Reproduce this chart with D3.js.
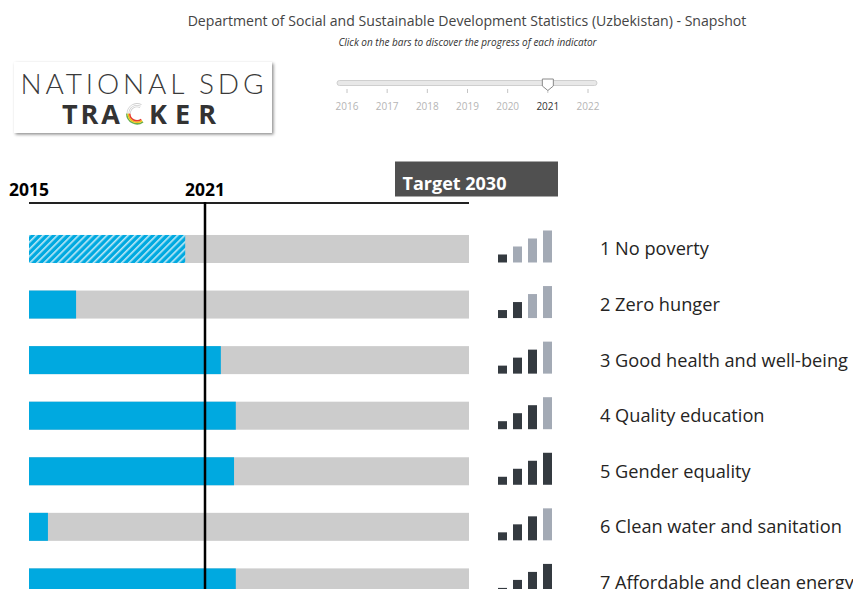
<!DOCTYPE html>
<html><head><meta charset="utf-8">
<script src="https://cdn.jsdelivr.net/npm/d3@7/dist/d3.min.js"></script>
<style>
html,body{margin:0;padding:0;background:#fff;overflow:hidden}
svg{display:block;font-family:"Open Sans","Noto Sans",sans-serif}
</style></head><body>
<svg id="chart" width="853" height="589"></svg>
<script>
// ---- data ----
const goals = ["1 No poverty","2 Zero hunger","3 Good health and well-being","4 Quality education","5 Gender equality","6 Clean water and sanitation","7 Affordable and clean energy"];
const progress = [35.5, 10.7, 43.6, 47.0, 46.6, 4.3, 47.0];   // % of the way to the 2030 target
const estimated = [true, false, false, false, false, false, false];
const signal = [1, 2, 3, 3, 4, 3, 4];                          // 1..4 progress level
const sliderYears = [2016, 2017, 2018, 2019, 2020, 2021, 2022];
const selectedYear = 2021;
const baseYear = 2015, targetYear = 2030;
const titleText = "Department of Social and Sustainable Development Statistics (Uzbekistan) - Snapshot";
const subtitleText = "Click on the bars to discover the progress of each indicator";

const svg = d3.select("#chart");
const defs = svg.append("defs");

// hatch pattern
const pat = defs.append("pattern").attr("id","hatch").attr("patternUnits","userSpaceOnUse")
  .attr("width",5).attr("height",5).attr("patternTransform","rotate(45)");
pat.append("rect").attr("width",5).attr("height",5).attr("fill","#00a9e0");
pat.append("rect").attr("x",0).attr("width",1.6).attr("height",5).attr("fill","#bfe9f7");

const shadow = defs.append("filter").attr("id","shadow").attr("x","-10%").attr("y","-20%").attr("width","125%").attr("height","150%");
shadow.append("feDropShadow").attr("dx",1.5).attr("dy",1.5).attr("stdDeviation",1.6).attr("flood-color","#000").attr("flood-opacity",0.45);

// ---- title ----
svg.append("text").attr("x",467).attr("y",26).attr("text-anchor","middle")
  .attr("font-size",14.1).attr("fill","#444").text(titleText);
svg.append("text").attr("x",467.5).attr("y",46).attr("text-anchor","middle")
  .attr("font-size",10).attr("font-style","italic").attr("fill","#333").text(subtitleText);

// ---- logo ----
const logo = svg.append("g");
logo.append("rect").attr("x",14).attr("y",62).attr("width",258).attr("height",71)
  .attr("fill","#fff").attr("filter","url(#shadow)");
logo.append("text").attr("x",20.5).attr("y",94).attr("font-family","Lato, 'Open Sans', sans-serif")
  .attr("font-weight",300).attr("font-size",28).attr("fill","#3a3a3a")
  .attr("textLength",243).attr("lengthAdjust","spacing").text("NATIONAL SDG");
logo.append("text").attr("x",62).attr("y",123.5).attr("font-family","'Open Sans', sans-serif")
  .attr("font-weight",700).attr("font-size",27).attr("fill","#333")
  .attr("textLength",58).attr("lengthAdjust","spacing").text("TRA");
logo.append("text").attr("x",149).attr("y",123.5).attr("font-family","'Open Sans', sans-serif")
  .attr("font-weight",700).attr("font-size",27).attr("fill","#333")
  .attr("textLength",67).attr("lengthAdjust","spacing").text("KER");
const cIcon = logo.append("g").attr("transform","translate(137,113.5)");
const arcG = d3.arc();
[[9.5,11,"#6ab04c"],[8,9.5,"#f4c20d"],[6.5,8,"#e63c2f"]].forEach(([r0,r1,c]) => {
  cIcon.append("path").attr("d",arcG({innerRadius:r0,outerRadius:r1,startAngle:Math.PI*0.8,endAngle:Math.PI*1.5})).attr("fill",c);
});
[[9.6,10.4],[7.8,8.6],[6.2,7]].forEach(([r0,r1]) => {
  cIcon.append("path").attr("d",arcG({innerRadius:r0,outerRadius:r1,startAngle:-Math.PI*0.5,endAngle:Math.PI*0.15})).attr("fill","#cfcfcf");
});

// ---- year slider ----
const sx = d3.scaleLinear().domain([d3.min(sliderYears), d3.max(sliderYears)]).range([347, 588]);
const slider = svg.append("g");
slider.append("rect").attr("x",337).attr("y",80.5).attr("width",260).attr("height",5).attr("rx",2.5)
  .attr("fill","#e8e8e8").attr("stroke","#cfcfcf").attr("stroke-width",1);
slider.selectAll("line.tk").data(sliderYears).join("line").attr("class","tk")
  .attr("x1",d=>sx(d)).attr("x2",d=>sx(d)).attr("y1",89).attr("y2",93)
  .attr("stroke","#c4c4c4").attr("stroke-width",1);
slider.selectAll("text.yl").data(sliderYears).join("text").attr("class","yl")
  .attr("x",d=>sx(d)).attr("y",110).attr("text-anchor","middle").attr("font-size",10)
  .attr("fill",d=>d===selectedYear?"#333":"#b5b5b5").text(d=>d);
const hx = sx(selectedYear);
slider.append("path")
  .attr("d",`M${hx-5.5},79 L${hx+5.5},79 L${hx+5.5},86 L${hx},90.5 L${hx-5.5},86 Z`)
  .attr("fill","#fff").attr("stroke","#8a8a8a").attr("stroke-width",1);

// ---- scales ----
const xYear = d3.scaleLinear().domain([baseYear, targetYear]).range([29, 469]);
const xProg = d3.scaleLinear().domain([0, 100]).range([29, 469]);
const y = d3.scaleBand().domain(goals).range([221.2, 221.2 + 7*55.57]).paddingInner(0.496).paddingOuter(0.248);
const bh = y.bandwidth();

// ---- header axis ----
svg.append("rect").attr("x",395).attr("y",161.5).attr("width",163).attr("height",35).attr("fill","#505050");
svg.append("text").attr("x",402.5).attr("y",190).attr("font-size",18).attr("font-weight",700)
  .attr("fill","#fff").text("Target " + targetYear);
svg.append("line").attr("x1",xYear(baseYear)).attr("x2",xYear(targetYear)).attr("y1",203).attr("y2",203)
  .attr("stroke","#222").attr("stroke-width",2);
svg.selectAll("text.ax").data([baseYear, selectedYear]).join("text").attr("class","ax")
  .attr("x",d=>xYear(d)).attr("y",196).attr("text-anchor","middle").attr("font-size",17.5)
  .attr("font-weight",700).attr("fill","#000").text(d=>d);

// ---- bars ----
const rows = svg.selectAll("g.row").data(goals).join("g").attr("class","row")
  .attr("transform",d=>`translate(0,${y(d)})`);
rows.append("rect").attr("x",xProg(0)).attr("y",0).attr("width",xProg(100)-xProg(0)).attr("height",bh).attr("fill","#cccccc");
rows.append("rect").attr("x",xProg(0)).attr("y",0).attr("width",(d,i)=>xProg(progress[i])-xProg(0)).attr("height",bh)
  .attr("fill",(d,i)=>estimated[i]?"url(#hatch)":"#00a9e0");

// signal icons
const sigX = d3.scaleBand().domain([1,2,3,4]).range([498, 552]).paddingInner(0.4).paddingOuter(0);
const sigH = d3.scaleLinear().domain([0,4]).range([0,32]);
rows.each(function(d,i){
  d3.select(this).selectAll("rect.sig").data([1,2,3,4]).join("rect").attr("class","sig")
    .attr("x",k=>sigX(k)).attr("width",sigX.bandwidth())
    .attr("y",k=>bh-0.5-sigH(k)).attr("height",k=>sigH(k))
    .attr("fill",k=>k<=signal[i]?"#343a40":"#a3aab5");
});
rows.append("text").attr("x",600).attr("y",bh/2+6.5).attr("font-size",18.2).attr("fill","#252423").text(d=>d);

// current-year line
svg.append("line").attr("x1",xYear(selectedYear)).attr("x2",xYear(selectedYear)).attr("y1",202).attr("y2",589)
  .attr("stroke","#000").attr("stroke-width",2.5);
</script>
</body></html>
